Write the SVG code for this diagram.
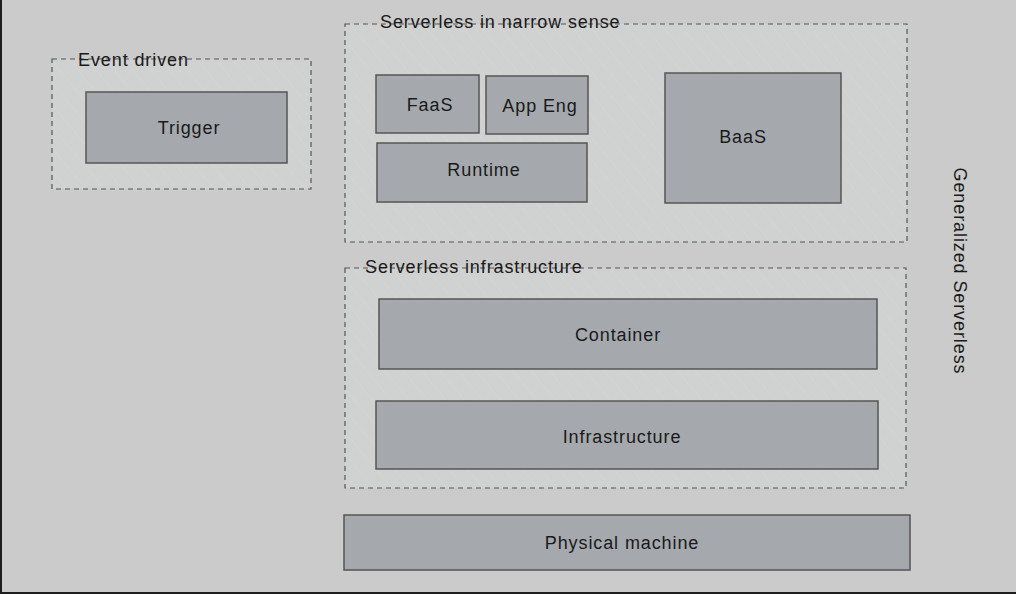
<svg xmlns="http://www.w3.org/2000/svg" width="1016" height="594" viewBox="0 0 1016 594">
<defs>
<pattern id="hatch" width="14" height="14" patternUnits="userSpaceOnUse" patternTransform="rotate(-40)">
<line x1="0" y1="0" x2="0" y2="14" stroke="#d8d8d8" stroke-width="1"/>
</pattern>
</defs>
<style>
.grp{fill:#d0d1d1;stroke:#555;stroke-width:1.2;stroke-dasharray:5 4}
.grph{fill:url(#hatch);stroke:none}
.box{fill:#a5a9ae;stroke:#555;stroke-width:1.5}
.t{font-family:"Liberation Sans",Arial,sans-serif;font-size:18px;letter-spacing:0.9px;fill:#1a1a1a}
.c{text-anchor:middle;dominant-baseline:central}
</style>
<rect x="0" y="0" width="1016" height="594" fill="#cbcbcb"/>
<rect x="0" y="0" width="2" height="594" fill="#1e1e1e"/>
<rect x="0" y="592" width="1016" height="2" fill="#1e1e1e"/>

<g id="group-event-driven">
<rect class="grp" x="52" y="59" width="259" height="130"/>
<rect class="grph" x="53" y="60" width="257" height="128"/>
<text class="t" x="78" y="66">Event driven</text>
</g>
<g id="group-narrow">
<rect class="grp" x="345" y="24" width="562" height="218"/>
<rect class="grph" x="346" y="25" width="560" height="216"/>
<text class="t" x="380" y="28">Serverless in narrow sense</text>
</g>
<g id="group-infra">
<rect class="grp" x="345" y="268" width="561" height="220"/>
<rect class="grph" x="346" y="269" width="559" height="218"/>
<text class="t" x="365" y="273">Serverless infrastructure</text>
</g>

<g id="node-trigger">
<rect class="box" x="86" y="92" width="201" height="71"/>
<text class="t c" x="189" y="128">Trigger</text>
</g>
<g id="node-faas">
<rect class="box" x="376" y="75" width="103" height="58"/>
<text class="t c" x="430" y="105">FaaS</text>
</g>
<g id="node-appeng">
<rect class="box" x="486" y="76" width="102" height="58"/>
<text class="t c" x="540" y="106">App Eng</text>
</g>
<g id="node-runtime">
<rect class="box" x="377" y="143" width="210" height="59"/>
<text class="t c" x="484" y="170">Runtime</text>
</g>
<g id="node-baas">
<rect class="box" x="665" y="73" width="176" height="130"/>
<text class="t c" x="743" y="137">BaaS</text>
</g>
<g id="node-container">
<rect class="box" x="379" y="299" width="498" height="70"/>
<text class="t c" x="618" y="335">Container</text>
</g>
<g id="node-infrastructure">
<rect class="box" x="376" y="401" width="502" height="68"/>
<text class="t c" x="622" y="437">Infrastructure</text>
</g>
<g id="node-physical">
<rect class="box" x="344" y="515" width="566" height="55"/>
<text class="t c" x="622" y="543">Physical machine</text>
</g>
<g id="label-generalized">
<text class="t c" x="960" y="271" transform="rotate(90 960 271)">Generalized Serverless</text>
</g>
<g id="connectors"></g>
</svg>
